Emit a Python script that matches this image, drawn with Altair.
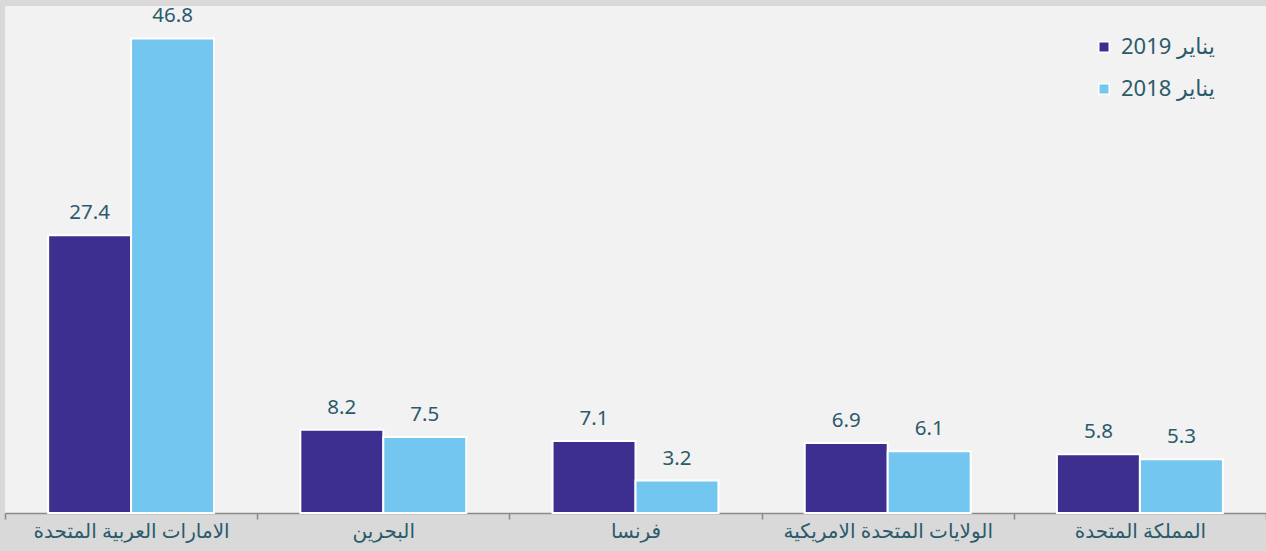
import altair as alt
import pandas as pd

categories = ["الامارات العربية المتحدة", "البحرين", "فرنسا", "الولايات المتحدة الامريكية", "المملكة المتحدة"]
series_names = ["يناير 2019", "يناير 2018"]
values_2019 = [27.4, 8.2, 7.1, 6.9, 5.8]
values_2018 = [46.8, 7.5, 3.2, 6.1, 5.3]
colors = ["#3c2f8f", "#72c6ef"]

rows = []
for c, a, b in zip(categories, values_2019, values_2018):
    rows.append({"cat": c, "series": series_names[0], "value": a, "label": f"{a:.1f}"})
    rows.append({"cat": c, "series": series_names[1], "value": b, "label": f"{b:.1f}"})
df = pd.DataFrame(rows)

FONT = "Noto Sans, DejaVu Sans, sans-serif"
TXT = "#2b5b6b"

x = alt.X("cat:N", sort=categories, title=None,
          scale=alt.Scale(paddingInner=0, paddingOuter=0),
          axis=alt.Axis(labelAngle=0, labelFontSize=20, labelColor=TXT, labelFont=FONT,
                        labelPadding=2, tickBand="extent", tickSize=6, tickColor="#8a8a8a",
                        tickWidth=1.5, domainColor="#8a8a8a", domainWidth=1.5,
                        labelLimit=300))
xo = alt.XOffset("series:N", sort=series_names,
                 scale=alt.Scale(paddingInner=0, paddingOuter=0.52))
y = alt.Y("value:Q", scale=alt.Scale(domain=[0, 50], nice=False), axis=None)

bars = alt.Chart(df).mark_bar(stroke="white", strokeWidth=2).encode(
    x=x, xOffset=xo, y=y,
    color=alt.Color("series:N", sort=series_names,
                    scale=alt.Scale(domain=series_names, range=colors),
                    legend=alt.Legend(title=None, orient="none", legendX=1088, legendY=30,
                                      symbolType="square", symbolSize=110,
                                      symbolStrokeColor="white", symbolStrokeWidth=1.5,
                                      labelFontSize=22, labelColor=TXT, labelFont=FONT,
                                      rowPadding=20, padding=0, labelOffset=6)),
)

labels = alt.Chart(df).mark_text(baseline="alphabetic", dy=-16, fontSize=20.5,
                                 color=TXT, font=FONT).encode(
    x=x, xOffset=xo, y=y, text="label:N"
)

chart = alt.layer(bars, labels).properties(
    width=1261, height=507,
    background="#d9d9d9",
    padding={"left": 5, "top": 6, "right": 0, "bottom": 38},
    autosize=alt.AutoSizeParams(type="none"),
).configure_view(fill="#f2f2f2", stroke=None)

chart.save("out.html", embed_options={"renderer": "svg", "actions": False})
